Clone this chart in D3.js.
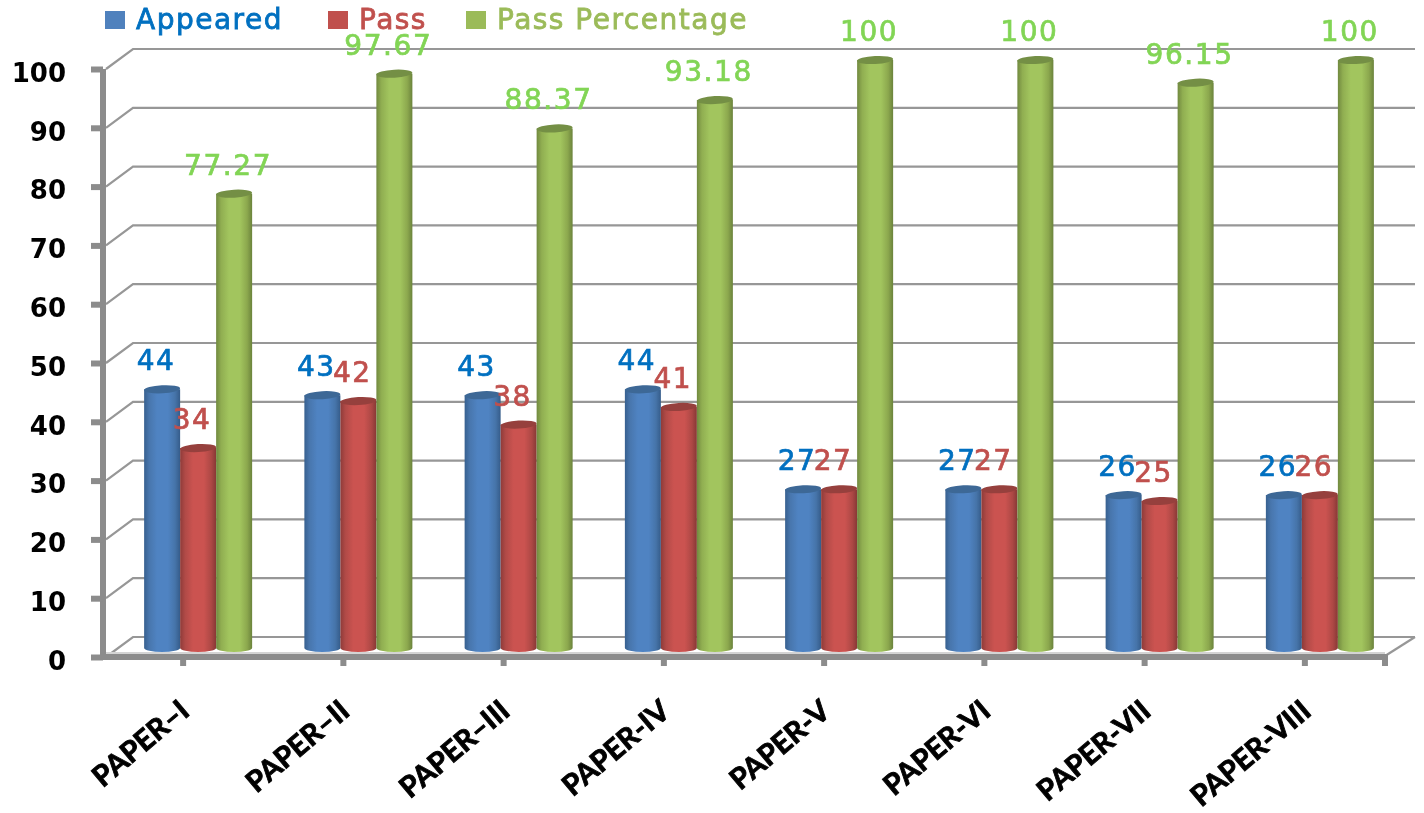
<!DOCTYPE html>
<html>
<head>
<meta charset="utf-8">
<script src="https://d3js.org/d3.v7.min.js"></script>
<style>
  html, body { margin: 0; padding: 0; background: #fff; }
  svg { display: block; filter: blur(0.5px); }
  .num { font-family: "DejaVu Sans", sans-serif; }
</style>
</head>
<body>
<svg id="chart" width="1424" height="813"></svg>
<script>
const categories = ['PAPER–I', 'PAPER–II', 'PAPER–III', 'PAPER-IV', 'PAPER-V', 'PAPER-VI', 'PAPER-VII', 'PAPER-VIII'];
const appeared = [44, 43, 43, 44, 27, 27, 26, 26];
const pass = [34, 42, 38, 41, 27, 27, 25, 26];
const passPct = [77.27, 97.67, 88.37, 93.18, 100, 100, 96.15, 100];
const yTicks = [0, 10, 20, 30, 40, 50, 60, 70, 80, 90, 100];

const seriesList = [
  {name: 'Appeared', values: appeared, id: 'blue', text: '#0070c0', legendText: '#0070c0', swatch: '#4f81bd', top: '#3d6896',
    stops: ['#37608f', '#4876ad', '#4f83c2', '#4f83c2', '#4674a9', '#355c8a']},
  {name: 'Pass', values: pass, id: 'red', text: '#c0504d', legendText: '#c0504d', swatch: '#c0504d', top: '#96403d',
    stops: ['#8e3b39', '#b04a47', '#cb5350', '#cb5350', '#ad4845', '#873835']},
  {name: 'Pass Percentage', values: passPct, id: 'green', text: '#82d555', legendText: '#9bbb59', swatch: '#9bbb59', top: '#748f45',
    stops: ['#71893f', '#90ae51', '#a2c55e', '#a2c55e', '#8ca84e', '#6b833c']}
];

const depthX = 30, depthY = 20;      // offset of the back wall
const barDepthX = 15, barDepthY = 9; // bars stand half way in
const svg = d3.select('#chart');

const x = d3.scaleBand().domain(categories).range([103, 1385]);
const y = d3.scaleLinear().domain([0, 100]).range([657, 69]);
const xInner = d3.scaleBand().domain(seriesList.map(s => s.name)).range([-54, 54]);

// gradients for the cylinders
const defs = svg.append('defs');
seriesList.forEach(s => {
  const g = defs.append('linearGradient').attr('id', 'grad-' + s.id);
  [0, 0.14, 0.36, 0.66, 0.86, 1].forEach((o, i) => {
    g.append('stop').attr('offset', o).attr('stop-color', s.stops[i]);
  });
});

// back wall grid
const grid = svg.append('g').attr('stroke', '#979797').attr('stroke-width', 2.2).attr('fill', 'none');
grid.selectAll('path').data(yTicks).join('path')
  .attr('d', d => `M${x.range()[0] + 3},${y(d)} L${x.range()[0] + depthX},${y(d) - depthY} L${x.range()[1] + depthX},${y(d) - depthY}`);
grid.append('path')
  .attr('d', `M${x.range()[1]},${y(0) - 1} L${x.range()[1] + depthX},${y(0) - depthY}`);
svg.append('line')
  .attr('x1', x.range()[0]).attr('x2', x.range()[1])
  .attr('y1', y(0) - 4).attr('y2', y(0) - 4)
  .attr('stroke', '#d4d4d4').attr('stroke-width', 2);

// axes
const yAxis = d3.axisLeft(y).tickValues(yTicks).tickSize(12).tickPadding(25);
const xAxis = d3.axisBottom(x).tickSize(9).tickFormat('');

const gy = svg.append('g').attr('transform', `translate(${x.range()[0]},0)`).call(yAxis);
gy.selectAll('.domain').attr('d', `M0,${y(100)}V${y(0)}`).attr('stroke', '#8c8c8c').attr('stroke-width', 6);
gy.selectAll('.tick line').attr('stroke', '#8c8c8c').attr('stroke-width', 6);
gy.selectAll('.tick text')
  .attr('fill', '#000').attr('dy', '0.47em')
  .style('font', 'bold 26px "DejaVu Sans"');

const gx = svg.append('g').attr('transform', `translate(0,${y(0)})`).call(xAxis);
gx.selectAll('.domain').attr('d', `M${x.range()[0]},0H${x.range()[1]}V9`).attr('stroke', '#8c8c8c').attr('stroke-width', 6).attr('fill', 'none');
gx.selectAll('.tick line').attr('stroke', '#8c8c8c').attr('stroke-width', 6);
gx.selectAll('.tick').append('text')
  .text(d => d)
  .attr('fill', '#000')
  .attr('stroke', '#000')
  .attr('stroke-width', 0.9)
  .attr('text-anchor', 'end')
  .attr('transform', 'translate(8,57) rotate(-40)')
  .style('font', 'bold 29px Lato');

// cylinders
const rx = xInner.bandwidth() / 2, ry = 4;
seriesList.forEach(s => {
  const g = svg.append('g');
  const cx = d => x(d.c) + x.bandwidth() / 2 + barDepthX + xInner(s.name) + rx;
  const data = categories.map((c, i) => ({c: c, v: s.values[i]}));
  const bars = g.selectAll('g').data(data).join('g');
  bars.append('path')
    .attr('fill', `url(#grad-${s.id})`)
    .attr('d', d => {
      const t = y(d.v) - barDepthY, b = y(0) - barDepthY;
      return `M${cx(d) - rx},${t} L${cx(d) + rx},${t} L${cx(d) + rx},${b} A${rx},${ry} 0 0 1 ${cx(d) - rx},${b} Z`;
    });
  bars.append('ellipse')
    .attr('cx', cx).attr('cy', d => y(d.v) - barDepthY)
    .attr('rx', rx).attr('ry', ry)
    .attr('fill', s.top)
    .attr('transform', d => `rotate(-3 ${cx(d)} ${y(d.v) - barDepthY})`);
  s.cx = cx;
  s.data = data;
});

// value labels go on top of all the bars
seriesList.forEach(s => {
  svg.append('g').selectAll('text').data(s.data).join('text')
    .attr('class', 'num')
    .attr('x', d => s.cx(d) - 6)
    .attr('y', d => y(d.v) - barDepthY - 19)
    .attr('text-anchor', 'middle')
    .attr('fill', s.text)
    .attr('stroke', s.text)
    .attr('stroke-width', 0.7)
    .attr('font-size', 28)
    .attr('letter-spacing', 1.6)
    .text(d => d.v);
});

// legend
const legendX = [105, 328, 466];
const legend = svg.append('g').selectAll('g').data(seriesList).join('g')
  .attr('transform', (d, i) => `translate(${legendX[i]},11)`);
legend.append('rect').attr('width', 20).attr('height', 18).attr('fill', d => d.swatch);
legend.append('text')
  .attr('class', 'num')
  .attr('x', 31).attr('y', 18)
  .attr('fill', d => d.legendText)
  .attr('stroke', d => d.legendText)
  .attr('stroke-width', 0.8)
  .attr('font-size', 28)
  .attr('letter-spacing', 1.5)
  .text(d => d.name);
</script>
</body>
</html>
